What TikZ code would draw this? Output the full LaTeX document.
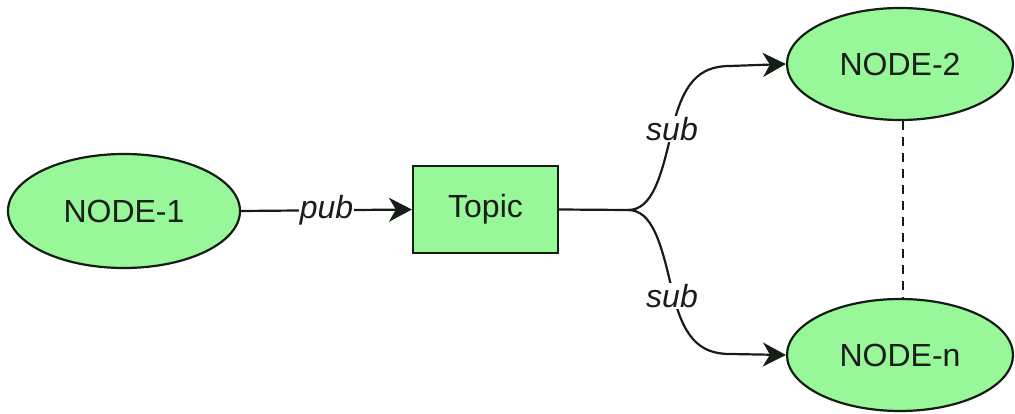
\documentclass[tikz,border=0pt]{standalone}
\usepackage{fontspec}
\setmainfont{Liberation Sans}
\usetikzlibrary{shapes.geometric,arrows.meta}
\definecolor{nodefill}{RGB}{152,247,152}
\definecolor{nodeline}{RGB}{20,30,20}
\definecolor{txt}{RGB}{25,30,25}
\begin{document}
\begin{tikzpicture}[x=1pt,y=-1pt,
  ell/.style={ellipse,draw=nodeline,fill=nodefill,line width=2.2pt,inner sep=0pt,
    minimum width=226pt,minimum height=112pt,font=\fontsize{32}{36}\selectfont,text=txt},
  boxnode/.style={rectangle,draw=nodeline,fill=nodefill,line width=2.2pt,inner sep=0pt,
    minimum width=145pt,minimum height=87pt,font=\fontsize{32}{36}\selectfont,text=txt},
  conn/.style={line width=2.2pt,draw=nodeline},
  arr/.style={conn,-{Stealth[length=23pt,width=24pt,inset=7pt]}},
  lbl/.style={fill=white,inner sep=1pt,font=\itshape\fontsize{32}{36}\selectfont,text=txt}]
\useasboundingbox (0,0) rectangle (1015,414);
\node[ell,minimum width=232pt,minimum height=114pt] (n1) at (124,211) {NODE-1};
\node[boxnode] (topic) at (485.5,209.5) {\raisebox{-3pt}{Topic}};
\node[ell] (n2) at (900,64) {NODE-2};
\node[ell] (nn) at (900,355) {NODE-n};
\coordinate (fork) at (628,210);
\draw[arr] (n1.east) -- node[lbl] {pub} (topic.west);
\draw[conn] (topic.east) -- (fork);
\draw[arr] (fork) .. controls (652,210) and (661,178) .. (672,130)
  .. controls (683,84) and (698,66) .. (730,66) -- (n2.west);
\draw[arr] (fork) .. controls (652,210) and (661,242) .. (672,290)
  .. controls (683,336) and (698,354) .. (730,354) -- (nn.west);
\node[lbl] (s1) at (672,129) {sub};
\node[lbl] (s2) at (672,296) {sub};
\draw[conn,dash pattern=on 9pt off 7pt] ([xshift=3pt]n2.south) -- ([xshift=3pt]nn.north);
\end{tikzpicture}
\end{document}
